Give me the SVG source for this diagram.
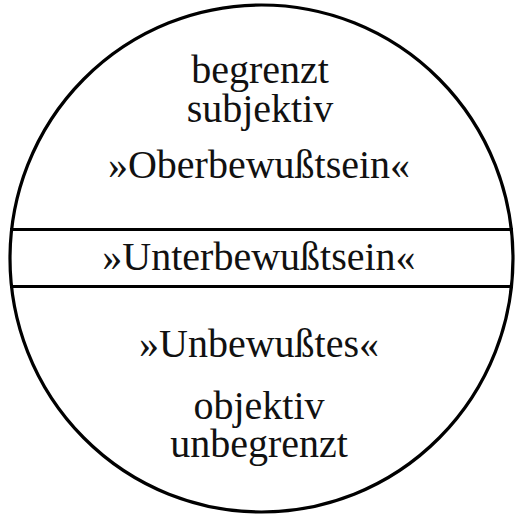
<svg xmlns="http://www.w3.org/2000/svg" width="517" height="515" viewBox="0 0 517 515">
<style>
.ln{fill:none;stroke:#000;stroke-width:3.2}
.t{font-family:"Liberation Serif","Times New Roman",serif;font-size:40px;text-anchor:middle;fill:#111}
</style>
<rect width="517" height="515" fill="#fff"/>
<g id="circle">
<ellipse class="ln" cx="261.5" cy="258.5" rx="251.5" ry="253.5"/>
</g>
<g id="connectors">
<line class="ln" x1="10" y1="229.5" x2="513" y2="229.5"/>
<line class="ln" x1="10" y1="286.5" x2="513" y2="286.5"/>
</g>
<g id="oberbewusstsein">
<text class="t" x="260" y="83">begrenzt</text>
<text class="t" x="260" y="122">subjektiv</text>
<text class="t" x="259" y="178">»Oberbewußtsein«</text>
</g>
<g id="unterbewusstsein">
<text class="t" x="259" y="270">»Unterbewußtsein«</text>
</g>
<g id="unbewusstes">
<text class="t" x="259" y="357">»Unbewußtes«</text>
<text class="t" x="259" y="419">objektiv</text>
<text class="t" x="259" y="457">unbegrenzt</text>
</g>
</svg>
